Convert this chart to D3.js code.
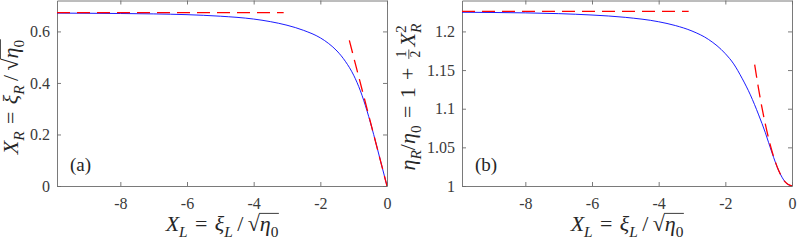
<!DOCTYPE html>
<html>
<head>
<meta charset="utf-8">
<script src="https://d3js.org/d3.v7.min.js"></script>
<style>
  body { margin: 0; background: #fff; }
</style>
</head>
<body>
<svg width="797" height="242"></svg>
<script>
// values
const xL    = [-9.9, -9, -8, -7, -6, -5, -4, -3.5, -3, -2.5, -2, -1.75, -1.5, -1.25, -1, -0.8, -0.6, -0.4, -0.2, 0];
const xR    = [0.671, 0.6705, 0.6695, 0.668, 0.665, 0.659, 0.648, 0.638, 0.624, 0.604, 0.575, 0.553, 0.524, 0.484, 0.430, 0.370, 0.292, 0.200, 0.100, 0];
const etaR  = [1.2248, 1.2245, 1.2240, 1.2230, 1.2212, 1.2182, 1.2125, 1.2076, 1.2005, 1.1895, 1.1712, 1.1580, 1.1395, 1.1180, 1.0920, 1.0690, 1.0430, 1.0200, 1.0050, 1];

// dashed asymptotes
const farX   = [-9.9, -3.1];
const farXR  = [0.673, 0.673];
const farEta = [1.226, 1.226];
const nearX    = [-1.13, 0];
const nearXR   = [0.565, 0];
const nearXb   = [-1.12, -1.0, -0.8, -0.6, -0.4, -0.2, 0];
const nearEta  = [1.157, 1.125, 1.080, 1.045, 1.020, 1.005, 1.0];

const xTicks  = [-8, -6, -4, -2, 0];
const yTicksA = [0, 0.2, 0.4, 0.6];
const yTicksB = [1, 1.05, 1.1, 1.15, 1.2];

const svg = d3.select("svg");
const TXT = "#262626";
const FONT = "'Times New Roman', 'Liberation Serif', serif";

function txt(sel) {
  return sel.append("text").style("font-family", FONT).style("white-space", "pre").attr("fill", TXT);
}

// tiny math typesetter: runs of text placed one after another
function mathRun(g, parts, x, fs) {
  parts.forEach(p => {
    if (p.sqrt) {
      const r = txt(g).attr("x", x).attr("y", 0).attr("font-size", fs).text("\u221A");
      const w = r.node().getComputedTextLength();
      const x2 = mathRun(g, p.sqrt, x + w, fs);
      g.append("line").attr("x1", x + w - 0.6).attr("x2", x2 + 0.5)
        .attr("y1", -0.80 * fs).attr("y2", -0.80 * fs)
        .attr("stroke", TXT).attr("stroke-width", 0.9);
      x = x2;
    } else if (p.frac) {
      const s = fs * 0.62;
      const a = txt(g).attr("font-size", s).attr("y", -0.40 * fs).text(p.frac[0]);
      const b = txt(g).attr("font-size", s).attr("y", 0.24 * fs).text(p.frac[1]);
      const wa = a.node().getComputedTextLength(), wb = b.node().getComputedTextLength();
      const w = Math.max(wa, wb) + 0.24 * fs;
      a.attr("x", x + (w - wa) / 2);
      b.attr("x", x + (w - wb) / 2);
      g.append("line").attr("x1", x + 0.06 * fs).attr("x2", x + w - 0.06 * fs)
        .attr("y1", -0.28 * fs).attr("y2", -0.28 * fs)
        .attr("stroke", TXT).attr("stroke-width", 0.8);
      x += w + 0.08 * fs;
    } else if (p.ss) {
      const s = fs * 0.7;
      const a = txt(g).attr("x", x).attr("y", 0.26 * fs).attr("font-size", s)
        .attr("font-style", "italic").text(p.ss[0]);
      const b = txt(g).attr("x", x).attr("y", -0.42 * fs).attr("font-size", s).text(p.ss[1]);
      x += Math.max(a.node().getComputedTextLength(), b.node().getComputedTextLength());
    } else {
      const t = txt(g).attr("x", x).attr("y", (p.dy || 0) * fs)
        .attr("font-size", fs * (p.sc || 1))
        .attr("font-style", p.it ? "italic" : null).text(p.t);
      x += t.node().getComputedTextLength();
    }
  });
  return x;
}

function mathLabel(parts, fs, cx, cy, rotate) {
  const outer = svg.append("g");
  const inner = outer.append("g");
  const w = mathRun(inner, parts, 0, fs);
  inner.attr("transform", `translate(${-w / 2},0)`);
  outer.attr("transform", rotate ? `translate(${cx},${cy}) rotate(-90)` : `translate(${cx},${cy})`);
}

const sub = (t, it) => ({ t: t, it: it, dy: 0.25, sc: 0.7 });
const fmt = d => String(d);
const EQ = "\u2004=\u2004", PLUS = "\u2004+\u2004", SL = "\u2009/\u2009";

function panel(left, right, top, bottom, yDom, yTicks, ys, farY, nearXs, nearYs, tag) {
  const x = d3.scaleLinear().domain([-9.9, 0]).range([left, right]);
  const y = d3.scaleLinear().domain(yDom).range([bottom, top]);
  const T = 4;

  const axes = [
    [d3.axisBottom(x).tickValues(xTicks).tickFormat(fmt).tickPadding(12), `translate(0,${bottom})`],
    [d3.axisTop(x).tickValues(xTicks).tickFormat(""), `translate(0,${top})`],
    [d3.axisLeft(y).tickValues(yTicks).tickFormat(fmt).tickPadding(7), `translate(${left},0)`],
    [d3.axisRight(y).tickValues(yTicks).tickFormat(""), `translate(${right},0)`]
  ];
  axes.forEach(([ax, tr]) => {
    const g = svg.append("g").attr("transform", tr)
      .call(ax.tickSizeInner(-T).tickSizeOuter(0));
    g.select(".domain").attr("stroke", "#6b6b6b").attr("stroke-width", 0.9);
    g.selectAll(".tick line").attr("stroke", "#6b6b6b").attr("stroke-width", 0.9);
    g.selectAll("text").style("font-family", FONT)
      .attr("font-size", 16).attr("fill", "#3a3a3a");
  });

  const clipId = "clip" + tag;
  svg.append("clipPath").attr("id", clipId).append("rect")
    .attr("x", left).attr("y", top).attr("width", right - left).attr("height", bottom - top);
  const plot = svg.append("g").attr("clip-path", `url(#${clipId})`);

  const line = d3.line().x(d => x(d[0])).y(d => y(d[1])).curve(d3.curveMonotoneX);

  plot.append("path").datum(xL.map((v, i) => [v, ys[i]]))
    .attr("d", line)
    .attr("fill", "none").attr("stroke", "#0000ff").attr("stroke-width", 0.9);

  [farX.map((v, i) => [v, farY[i]]), nearXs.map((v, i) => [v, nearYs[i]])].forEach(pts => {
    plot.append("path").datum(pts).attr("d", line)
      .attr("fill", "none").attr("stroke", "#ff0000").attr("stroke-width", 1.3)
      .attr("stroke-dasharray", "13,7");
  });

  txt(svg).attr("x", left + 13).attr("y", bottom - 15)
    .attr("font-size", 19).text("(" + tag + ")");

  // x label
  mathLabel([{ t: "X", it: true }, sub("L", true), { t: EQ }, { t: "\u03BE", it: true }, sub("L", true),
    { t: SL }, { sqrt: [{ t: "\u03B7", it: true }, sub("0")] }], 22, (left + right) / 2, 231, false);
}

panel(57, 387, 0.5, 186, [0, 0.72], yTicksA, xR, farXR, nearX, nearXR, "a");
panel(462, 792, 0.5, 186, [1, 1.24], yTicksB, etaR, farEta, nearXb, nearEta, "b");

mathLabel([{ t: "X", it: true }, sub("R", true), { t: EQ }, { t: "\u03BE", it: true }, sub("R", true),
  { t: SL }, { sqrt: [{ t: "\u03B7", it: true }, sub("0")] }], 22, 18, 97, true);

mathLabel([{ t: "\u03B7", it: true }, sub("R", true), { t: "/" }, { t: "\u03B7", it: true }, sub("0"),
  { t: EQ + "1" + PLUS }, { frac: ["1", "2"] }, { t: "X", it: true }, { ss: ["R", "2"] }], 22, 415, 97, true);
</script>
</body>
</html>
